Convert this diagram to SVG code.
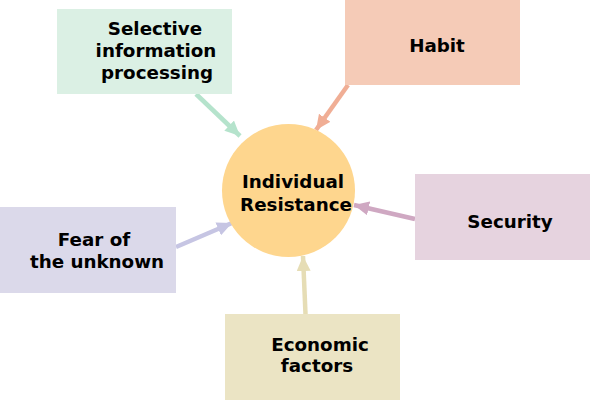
<svg xmlns="http://www.w3.org/2000/svg" width="590" height="402" viewBox="0 0 590 402">
<style>
text{font-family:"DejaVu Sans",Verdana,sans-serif;font-weight:bold;font-size:18.3px;fill:#000;text-anchor:middle}
.c{stroke-width:4.5;fill:none}
</style>
<defs>
<marker id="mg" markerUnits="userSpaceOnUse" markerWidth="16" markerHeight="14" refX="15" refY="7" orient="auto"><path d="M0,0 L15,7 L0,14 z" fill="#b5e3cc"/></marker>
<marker id="mh" markerUnits="userSpaceOnUse" markerWidth="16" markerHeight="14" refX="15" refY="7" orient="auto"><path d="M0,0 L15,7 L0,14 z" fill="#f0ae95"/></marker>
<marker id="ms" markerUnits="userSpaceOnUse" markerWidth="16" markerHeight="14" refX="15" refY="7" orient="auto"><path d="M0,0 L15,7 L0,14 z" fill="#cfa8c2"/></marker>
<marker id="mf" markerUnits="userSpaceOnUse" markerWidth="16" markerHeight="14" refX="15" refY="7" orient="auto"><path d="M0,0 L15,7 L0,14 z" fill="#c6c5e3"/></marker>
<marker id="me" markerUnits="userSpaceOnUse" markerWidth="16" markerHeight="14" refX="15" refY="7" orient="auto"><path d="M0,0 L15,7 L0,14 z" fill="#e6ddb5"/></marker>
</defs>
<g id="connectors">
<line class="c" x1="196" y1="94" x2="240" y2="136" stroke="#b5e3cc" marker-end="url(#mg)"/>
<line class="c" x1="348" y1="85" x2="316" y2="130" stroke="#f0ae95" marker-end="url(#mh)"/>
<line class="c" x1="415" y1="219" x2="354" y2="205" stroke="#cfa8c2" marker-end="url(#ms)"/>
<line class="c" x1="176" y1="247" x2="232" y2="223" stroke="#c6c5e3" marker-end="url(#mf)"/>
<line class="c" x1="305.5" y1="314" x2="303" y2="256" stroke="#e6ddb5" marker-end="url(#me)"/>
</g>
<g id="center">
<circle cx="288.5" cy="190.5" r="66.5" fill="#fed68e"/>
<text x="293" y="188">Individual</text>
<text x="296" y="211">Resistance</text>
</g>
<g id="selective">
<rect x="57" y="9" width="175" height="85" fill="#dbf0e4"/>
<text x="155" y="35">Selective</text>
<text x="156" y="57">information</text>
<text x="157" y="79">processing</text>
</g>
<g id="habit">
<rect x="345" y="0" width="175" height="85" fill="#f5cbb7"/>
<text x="437" y="52">Habit</text>
</g>
<g id="security">
<rect x="415" y="174" width="175" height="86" fill="#e6d3df"/>
<text x="510" y="228">Security</text>
</g>
<g id="fear">
<rect x="0" y="207" width="176" height="86" fill="#dbd9ea"/>
<text x="94" y="246">Fear of</text>
<text x="97" y="268">the unknown</text>
</g>
<g id="economic">
<rect x="225" y="314" width="175" height="86" fill="#ebe4c4"/>
<text x="320" y="351">Economic</text>
<text x="317" y="372">factors</text>
</g>
</svg>
